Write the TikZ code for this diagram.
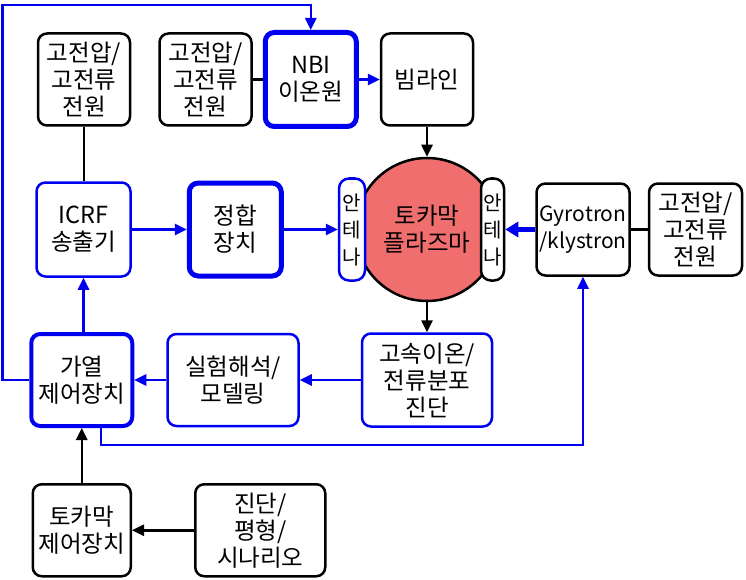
\documentclass[tikz,border=0pt]{standalone}
\usepackage{fontspec}
\setmainfont{Noto Sans CJK KR}
\usetikzlibrary{positioning,arrows.meta}

\definecolor{fblue}{RGB}{0,0,240}
\definecolor{plasmared}{RGB}{240,110,110}

\tikzset{
  box/.style={rectangle, rounded corners=9pt, fill=white, align=center,
    inner sep=0pt, minimum width=92pt, minimum height=92pt,
    font=\fontsize{23.5}{27}\selectfont},
  blk/.style={box, draw=black, line width=2.5pt},
  blu/.style={box, draw=fblue, line width=2.5pt},
  bluthick/.style={box, draw=fblue, line width=5pt},
  ant/.style={rectangle, rounded corners=10pt, fill=white, align=center,
    inner sep=0pt, minimum height=102pt,
    line width=2.5pt, font=\fontsize{20}{27}\selectfont},
  plasma/.style={circle, draw=black, fill=plasmared, line width=2.5pt,
    minimum size=143pt, align=center, font=\fontsize{23.5}{27}\selectfont},
  kline/.style={draw=black, line width=2.5pt},
  bline/.style={draw=fblue, line width=2.5pt},
  kar/.style={kline, -{Triangle[length=12pt,width=11pt]}},
  bar/.style={bline, -{Triangle[length=12pt,width=11pt]}},
  bigbar/.style={draw=fblue, line width=5pt, -{Triangle[length=13pt,width=15pt]}},
}

\begin{document}
\begin{tikzpicture}[x=1pt,y=-1pt]
  \useasboundingbox (0,0) rectangle (746,580);

  % middle row
  \node[plasma] (plasma) at (427,229.5) {토카막\\플라즈마};
  \node[ant, draw=fblue, minimum width=26pt, left=-12pt of plasma]  (antL) {안\\테\\나};
  \node[ant, draw=black, minimum width=23pt, right=-20pt of plasma] (antR) {안\\테\\나};
  \node[bluthick, minimum width=92pt, minimum height=93pt, left=54pt of antL] (match) {정합\\장치};
  \node[blu, minimum width=94pt, minimum height=94pt, left=55pt of match] (icrf) {ICRF\\송출기};
  \node[blk, minimum width=93pt, right=30pt of antR, font=\fontsize{21}{27}\selectfont] (gyro) {Gyrotron\\/klystron};
  \node[blk, minimum width=93pt, right=17pt of gyro] (ps3) {고전압/\\고전류\\전원};

  % top row
  \node[blk, above=30pt of plasma] (beam) {빔라인};
  \node[bluthick, minimum width=91pt, minimum height=94pt, left=21pt of beam] (nbi) {NBI\\이온원};
  \node[blk, left=10pt of nbi] (ps2) {고전압/\\고전류\\전원};
  \node[blk, left=27pt of ps2] (ps1) {고전압/\\고전류\\전원};

  % lower rows
  \node[blu, minimum width=130pt, minimum height=93pt, below=30pt of plasma] (diag) {고속이온/\\전류분포\\진단};
  \node[blu, minimum width=131pt, left=61pt of diag] (model) {실험해석/\\모델링};
  \node[box, draw=fblue, line width=4pt, minimum width=101pt, left=32pt of model] (heat) {가열\\제어장치};
  \node[blk, minimum width=98pt, below=55pt of heat] (tok) {토카막\\제어장치};
  \node[blk, minimum width=130pt, right=62pt of tok] (scen) {진단/\\평형/\\시나리오};

  % connections
  \draw[kline] (ps1.south) -- (ps1.south |- icrf.north);
  \draw[kline] (ps2) -- (nbi);
  \draw[bar] (nbi) -- (beam);
  \draw[kar] (beam) -- (plasma);
  \draw[bar] (icrf) -- (match);
  \draw[bar] (match) -- (antL);
  \draw[bigbar] (gyro) -- (antR);
  \draw[kline] (gyro) -- (ps3);
  \draw[kar] (plasma) -- (diag);
  \draw[bar] (diag) -- (model);
  \draw[bar] (model) -- (heat);
  \draw[bar] (heat.north -| icrf.south) -- (icrf.south);
  \draw[kar] (tok) -- (heat);
  \draw[kar] (scen) -- (tok);
  \draw[bar] (heat.west) -- ++(-27,0) |- ([yshift=25pt]nbi.north) -- (nbi.north);
  \draw[bar] ([xshift=19pt]heat.south) -- ++(0,17) -| (gyro.south);
\end{tikzpicture}
\end{document}
